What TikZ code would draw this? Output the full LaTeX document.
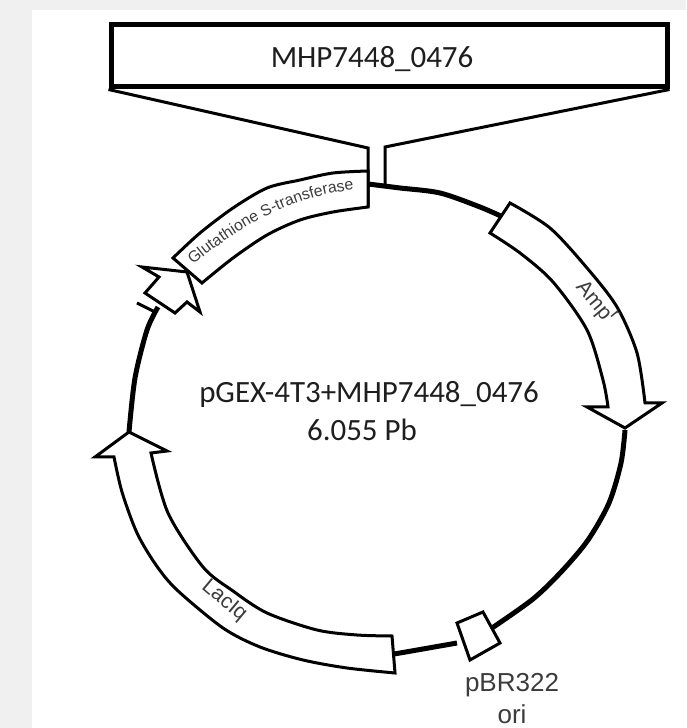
\documentclass[tikz,border=0pt]{standalone}
\usepackage{xcolor}
\usepackage{fontspec}
\usetikzlibrary{decorations.text}
\setmainfont{Carlito}
\newfontfamily\labelfont{Liberation Sans}
\definecolor{pageback}{HTML}{f0f0f0}
\definecolor{labelgray}{HTML}{3c3c3c}
\definecolor{textdark}{HTML}{1e1e1e}
\tikzset{
  genebox/.style={draw=black,fill=white,line width=0.03cm,line join=miter},
  backbone/.style={draw=black,line width=0.05cm},
  insertline/.style={draw=black,line width=0.03cm},
  titletext/.style={text=textdark,inner sep=0pt,font=\fontsize{8.8pt}{10pt}\selectfont},
  genetext/.style={text=labelgray,inner sep=0pt,font=\labelfont\fontsize{6pt}{7pt}\selectfont},
  oritext/.style={text=labelgray,inner sep=0pt,font=\labelfont\fontsize{7.4pt}{8pt}\selectfont},
}
\begin{document}
\begin{tikzpicture}[x=1cm,y=1cm]
  \useasboundingbox (0,0) rectangle (6.86,7.28);
  \fill[pageback] (0,0) rectangle (6.86,7.28);
  \fill[white] (0.32,0) rectangle (6.86,7.18);
  \draw[backbone] plot[smooth] coordinates {(3.68,5.44) (4.00,5.40) (4.40,5.35) (4.80,5.21) (5.05,5.10)};
  \draw[backbone] plot[smooth] coordinates {(6.25,2.98) (6.21,2.65) (6.09,2.25) (5.88,1.88) (5.62,1.57) (5.33,1.29) (4.92,1.00)};
  \draw[backbone] plot[smooth] coordinates {(4.57,0.85) (4.00,0.75) (3.93,0.74)};
  \draw[backbone] plot[smooth] coordinates {(1.58,4.21) (1.47,3.98) (1.35,3.50) (1.29,2.96)};
  \draw[insertline] (1.37,4.25) -- (1.55,4.16);
  \node[draw=black,line width=0.05cm,fill=white,minimum width=5.56cm,minimum height=0.62cm,inner sep=0pt] (insertbox) at (3.89,6.72) {};
  \node[titletext] (insertname) at (3.72,6.69) {MHP7448\_0476};
  \coordinate (leftneck) at (3.68,5.80);
  \coordinate (rightneck) at (3.85,5.81);
  \coordinate (leftfoot) at (3.68,5.21);
  \coordinate (rightfoot) at (3.85,5.43);
  \draw[insertline] (insertbox.south west) -- (leftneck) -- (leftfoot);
  \draw[insertline] (insertbox.south east) -- (rightneck) -- (rightfoot);
  \draw[genebox] plot[smooth] coordinates {(3.68,5.57) (3.33,5.55) (3.00,5.48) (2.67,5.40) (2.33,5.20) (2.00,4.95) (1.73,4.70)} -- plot[smooth] coordinates {(2.02,4.45) (2.33,4.70) (2.67,4.93) (3.00,5.08) (3.33,5.16) (3.68,5.21)} -- cycle;
  \draw[genebox] (1.87,4.56) -- (2.00,4.16) -- (1.87,4.26) -- (1.75,4.15) -- (1.45,4.35) -- (1.59,4.51) -- (1.42,4.61) -- cycle;
  \draw[genebox] plot[smooth] coordinates {(5.10,5.25) (5.50,5.00) (5.87,4.60) (6.17,4.21) (6.37,3.75) (6.45,3.25)} -- (6.62,3.25) -- (6.25,3.00) -- (5.87,3.21) -- plot[smooth] coordinates {(6.08,3.21) (6.03,3.48) (5.87,3.98) (5.53,4.46) (5.20,4.75) (4.90,4.95)} -- cycle;
  \draw[genebox] plot[smooth] coordinates {(1.14,2.71) (1.22,2.36) (1.37,1.95) (1.56,1.63) (1.77,1.38) (2.23,1.00) (2.60,0.81) (3.03,0.68) (3.47,0.60) (3.95,0.55)} -- plot[smooth] coordinates {(3.92,0.92) (3.57,0.93) (3.17,0.98) (2.67,1.15) (2.33,1.37) (2.03,1.61) (1.68,2.15) (1.51,2.75)} -- (1.67,2.77) -- (1.29,2.96) -- (0.95,2.71) -- cycle;
  \draw[genebox] (4.57,1.05) -- (4.83,1.16) -- (5.00,0.85) -- (4.70,0.68) -- cycle;
  \path[decorate,decoration={text along path,text align=center,text color=labelgray,text={|\labelfont\fontsize{4.5pt}{5pt}\selectfont|Glutathione S-transferase}}] (1.87,4.58) .. controls (2.40,5.03) and (2.95,5.34) .. (3.62,5.39);
  \node[genetext,rotate=-50] (ampname) at (5.97,4.25) {Amp\textsuperscript{r}};
  \node[genetext,rotate=-40] (lacname) at (2.24,1.27) {LacIq};
  \node[titletext] (plasmidname) at (3.69,3.34) {pGEX-4T3+MHP7448\_0476};
  \node[titletext] (plasmidsize) at (3.62,2.98) {6.055 Pb};
  \node[oritext] (oriname) at (5.12,0.43) {pBR322};
  \node[oritext] (orilabel) at (5.12,0.14) {ori};
\end{tikzpicture}
\end{document}
